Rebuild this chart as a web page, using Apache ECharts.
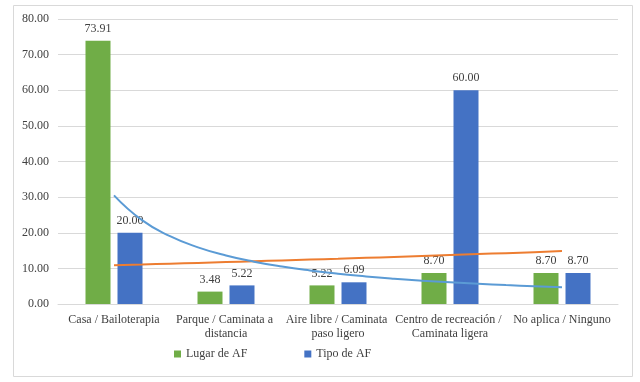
<!DOCTYPE html>
<html><head><meta charset="utf-8">
<script src="https://cdn.jsdelivr.net/npm/echarts@6/dist/echarts.min.js"></script>
<style>html,body{margin:0;padding:0;background:#fff}#c{width:640px;height:382px}</style>
</head><body><div id="c"></div>
<script>
var categories = ["Casa / Bailoterapia", "Parque / Caminata a distancia", "Aire libre / Caminata paso ligero", "Centro de recreación / Caminata ligera", "No aplica / Ninguno"];
var lugarAF = [73.91, 3.48, 5.22, 8.70, 8.70];
var tipoAF = [20.00, 5.22, 6.09, 60.00, 8.70];
var yTicks = [0, 10, 20, 30, 40, 50, 60, 70, 80];
// trend lines, at quarter-category steps
var trendX = [1, 1.25, 1.5, 1.75, 2, 2.25, 2.5, 2.75, 3, 3.25, 3.5, 3.75, 4, 4.25, 4.5, 4.75, 5];
var trendOrange = [10.89, 11.10, 11.32, 11.54, 11.77, 12.00, 12.23, 12.47, 12.71, 12.96, 13.21, 13.47, 13.74, 14.01, 14.28, 14.56, 14.85];
var trendBlue = [30.50, 23.53, 19.03, 15.91, 13.62, 11.88, 10.51, 9.41, 8.50, 7.74, 7.10, 6.56, 6.08, 5.67, 5.30, 4.98, 4.69];

var FONT = 'Liberation Serif, Times New Roman, serif';
var chart = echarts.init(document.getElementById('c'), null, {renderer: 'canvas'});
function pairs(xs, ys) { return xs.map(function (x, i) { return [x, ys[i]]; }); }
var lblStyle = {show: true, position: 'top', distance: 6, fontFamily: FONT, fontSize: 12, color: '#404040',
  formatter: function (p) { return Number(p.value).toFixed(2); }};
chart.setOption({
  animation: false,
  graphic: [{type: 'rect', shape: {x: 13.5, y: 5.5, width: 619, height: 371}, style: {fill: 'none', stroke: '#d9d9d9', lineWidth: 1}, z: -10}],
  grid: {left: 58, right: 22, top: 19, bottom: 78},
  legend: {
    data: ['Lugar de AF', 'Tipo de AF'], left: 174, top: 348, padding: 0, itemWidth: 7, itemHeight: 7, itemGap: 57,
    icon: 'rect', textStyle: {fontFamily: FONT, fontSize: 12, color: '#404040'}
  },
  xAxis: [{
    type: 'category', data: categories,
    axisLine: {lineStyle: {color: '#d9d9d9'}}, axisTick: {show: false},
    axisLabel: {fontFamily: FONT, fontSize: 12, color: '#404040', interval: 0, width: 118, overflow: 'break', lineHeight: 14, margin: 9}
  }, {
    type: 'value', min: 0.5, max: 5.5, show: false
  }],
  yAxis: {
    type: 'value', min: yTicks[0], max: yTicks[yTicks.length - 1], interval: 10,
    axisLine: {show: false}, axisTick: {show: false},
    splitLine: {lineStyle: {color: '#d9d9d9'}},
    axisLabel: {fontFamily: FONT, fontSize: 12, color: '#404040', margin: 9, formatter: function (v) { return v.toFixed(2); }}
  },
  series: [
    {name: 'Lugar de AF', type: 'bar', data: lugarAF, barWidth: 25, barGap: '28%', itemStyle: {color: '#70AD47'}, label: lblStyle},
    {name: 'Tipo de AF', type: 'bar', data: tipoAF, barWidth: 25, itemStyle: {color: '#4472C4'}, label: lblStyle},
    {name: 'trendOrange', type: 'line', xAxisIndex: 1, data: pairs(trendX, trendOrange), symbol: 'none', smooth: true,
      lineStyle: {color: '#ED7D31', width: 2}, z: 5},
    {name: 'trendBlue', type: 'line', xAxisIndex: 1, data: pairs(trendX, trendBlue), symbol: 'none', smooth: true,
      lineStyle: {color: '#5B9BD5', width: 2}, z: 5}
  ]
});
</script></body></html>
